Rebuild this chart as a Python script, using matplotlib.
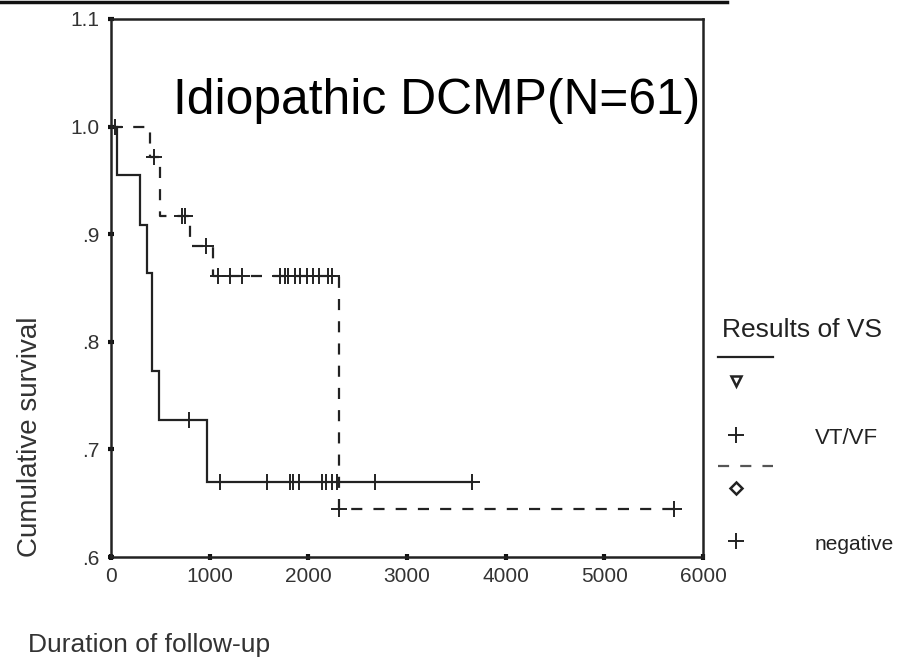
import matplotlib
matplotlib.use("Agg")
import matplotlib.pyplot as plt
import numpy as np
from matplotlib.lines import Line2D

plt.rcParams['font.family'] = ['Liberation Sans', 'DejaVu Sans']

# ---- data ----
vt_times = [0, 65, 294, 362, 416, 483, 970, 3658]
vt_surv = [1.0, 0.955, 0.909, 0.864, 0.773, 0.727, 0.670, 0.670]
vt_censor = [790, 1105, 1582, 1815, 1846, 1907, 2137, 2180, 2238, 2289, 2677, 3658]

neg_times = [0, 396, 500, 801, 1030, 2306, 5710]
neg_surv = [1.0, 0.972, 0.917, 0.889, 0.861, 0.645, 0.645]
neg_censor = [40, 440, 720, 750, 963, 1089, 1207, 1325, 1714, 1760, 1795, 1860,
              1917, 1985, 2052, 2110, 2201, 2240, 2310, 5710]

xticks = [0, 1000, 2000, 3000, 4000, 5000, 6000]
xticklabels = ['0', '1000', '2000', '3000', '4000', '5000', '6000']
yticks = [0.6, 0.7, 0.8, 0.9, 1.0, 1.1]
yticklabels = ['.6', '.7', '.8', '.9', '1.0', '1.1']

title = 'Idiopathic DCMP(N=61)'
legend_title = 'Results of VS'
group_labels = ['VT/VF', 'negative']


def step_value(times, surv, t):
    idx = np.searchsorted(times, t, side='right') - 1
    return surv[max(idx, 0)]


fig = plt.figure(figsize=(9.06, 6.57), dpi=100)
ax = fig.add_axes([111/906, 1-557/657, (703-111)/906, (557-19)/657])

lc = '#222222'
dash = (0, (5, 5))
ax.step(vt_times, vt_surv, where='post', color=lc, lw=1.6, solid_joinstyle='miter')
ax.step(neg_times, neg_surv, where='post', color=lc, lw=1.6, linestyle=dash)

vt_cy = [step_value(vt_times, vt_surv, t) for t in vt_censor]
neg_cy = [step_value(neg_times, neg_surv, t) for t in neg_censor]
ax.plot(vt_censor, vt_cy, linestyle='none', marker='+', ms=11, mew=1.4, color=lc)
ax.plot(neg_censor, neg_cy, linestyle='none', marker='+', ms=11, mew=1.4, color=lc)

ax.set_xlim(0, 6000)
ax.set_ylim(0.6, 1.1)
ax.set_xticks(xticks)
ax.set_xticklabels(xticklabels)
ax.set_yticks(yticks)
ax.set_yticklabels(yticklabels)
ax.tick_params(axis='both', direction='inout', length=5, width=3, colors='#111111',
               labelsize=15, labelcolor='#333333')
ax.tick_params(axis='x', pad=5)
ax.tick_params(axis='y', pad=6)
for s in ax.spines.values():
    s.set_linewidth(1.8)
    s.set_color('#222222')

fig.text(173/906, 1-101/657, title, fontsize=35.8, color='black',
         va='center', ha='left', zorder=5)

# axis labels
fig.text(30/906, 1-437/657, 'Cumulative survival', rotation=90, fontsize=20,
         color='#333333', ha='center', va='center')
fig.text(28/906, 1-645/657, 'Duration of follow-up', fontsize=19,
         color='#333333', ha='left', va='center')

# top border line
fig.add_artist(Line2D([0, 727/906], [1-2/657, 1-2/657], transform=fig.transFigure,
                      color='#111111', lw=2.5))

# legend (manual)
tf = fig.transFigure
fig.text(722/906, 1-330/657, legend_title, fontsize=19, color='#222222',
         ha='left', va='center')
fig.add_artist(Line2D([718/906, 773/906], [1-357/657]*2, transform=tf, color=lc, lw=1.6))
fig.add_artist(Line2D([736/906], [1-381/657], transform=tf, marker='v', ms=7,
                      mfc='white', mec=lc, mew=1.8, linestyle='none'))
fig.add_artist(Line2D([736/906], [1-435/657], transform=tf, marker='+', ms=11,
                      mec=lc, mew=1.4, linestyle='none'))
fig.text(815/906, 1-438/657, group_labels[0], fontsize=16, color='#222222',
         ha='left', va='center')
fig.add_artist(Line2D([718/906, 773/906], [1-466/657]*2, transform=tf, color='#555555',
                      lw=1.6, linestyle=dash))
fig.add_artist(Line2D([736/906], [1-488/657], transform=tf, marker='D', ms=6,
                      mfc='white', mec=lc, mew=1.8, linestyle='none'))
fig.add_artist(Line2D([736/906], [1-541/657], transform=tf, marker='+', ms=11,
                      mec=lc, mew=1.4, linestyle='none'))
fig.text(815/906, 1-545/657, group_labels[1], fontsize=15, color='#222222',
         ha='left', va='center')

fig.savefig('out.png', dpi=100, facecolor='white')
